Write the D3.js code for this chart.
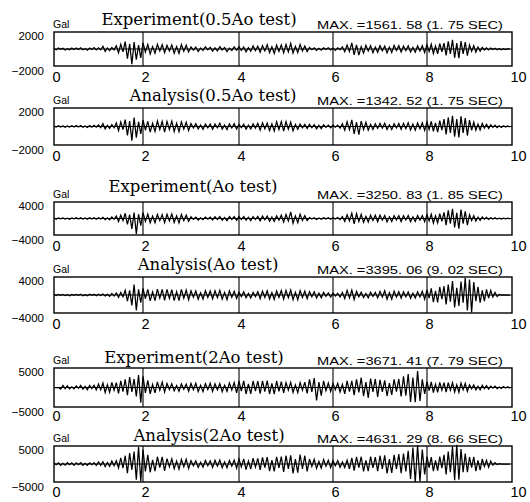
<!DOCTYPE html>
<html><head><meta charset="utf-8">
<script src="https://cdn.jsdelivr.net/npm/d3@7"></script>
<style>
html,body{margin:0;padding:0;background:#fff;}
svg{display:block;}
</style></head>
<body>
<svg id="chart" width="530" height="502"></svg>
<script>
// ---------------- DATA ----------------
const xTicks = [0, 2, 4, 6, 8, 10];
const dt = 0.05; // sec between successive peak readings
const titles = ["Experiment(0.5Ao test)", "Analysis(0.5Ao test)", "Experiment(Ao test)",
                "Analysis(Ao test)", "Experiment(2Ao test)", "Analysis(2Ao test)"];
const maxLabels = ["MAX. =1561. 58 (1. 75 SEC)", "MAX. =1342. 52 (1. 75 SEC)", "MAX. =3250. 83 (1. 85 SEC)",
                   "MAX. =3395. 06 (9. 02 SEC)", "MAX. =3671. 41 (7. 79 SEC)", "MAX. =4631. 29 (8. 66 SEC)"];
const yLimits = [2000, 2000, 4000, 4000, 5000, 5000];
const unitLabel = "Gal";

const exp05 = [
 60,-80,110,-40,70,-100,40,-70,90,-50,
 100,-60,120,-80,50,-130,90,-50,140,-90,
 120,-90,280,-240,100,-160,150,-90,320,-380,
 480,-300,760,-980,520,-1561,700,-1100,400,-900,
 620,-300,450,-520,250,-420,480,-200,440,-380,
 380,-200,420,-440,250,-460,450,-220,380,-300,
 220,-120,200,-260,110,-160,230,-90,170,-210,
 120,-190,250,-100,160,-260,90,-150,220,-130,
 230,-150,210,-290,130,-220,310,-160,280,-330,
 350,-200,440,-380,220,-460,400,-250,420,-390,
 460,-300,560,-420,280,-370,450,-200,300,-260,
 150,-80,120,-140,70,-120,110,-60,130,-100,
 90,-140,120,-70,210,-280,400,-250,620,-600,
 420,-620,250,-420,380,-200,340,-380,200,-330,
 340,-180,300,-380,200,-350,370,-160,340,-300,
 300,-170,330,-300,160,-330,310,-200,340,-360,
 420,-250,480,-460,300,-500,560,-280,600,-650,
 780,-500,930,-900,600,-930,820,-500,700,-680,
 420,-250,350,-320,200,-220,170,-100,120,-100,
 90,-60,80,-70,50,-70,40,-60,40,-30];

const ana05 = [
 40,-60,80,-40,60,-80,40,-60,70,-40,
 90,-50,90,-80,50,-90,80,-60,110,-70,
 140,-100,260,-230,110,-170,170,-120,330,-380,
 420,-300,640,-840,500,-1342,840,-1050,450,-700,
 600,-350,480,-520,300,-460,510,-280,470,-520,
 480,-280,500,-470,300,-480,430,-250,400,-380,
 280,-140,260,-230,150,-270,230,-120,240,-260,
 220,-130,300,-250,130,-280,250,-140,270,-240,
 200,-110,220,-250,120,-230,240,-150,300,-330,
 350,-220,330,-380,250,-420,450,-280,460,-430,
 470,-260,400,-390,200,-260,230,-130,200,-180,
 200,-120,180,-210,110,-190,160,-90,130,-120,
 120,-70,130,-150,250,-350,450,-300,620,-700,
 400,-770,500,-300,380,-350,200,-280,260,-180,
 280,-150,300,-270,160,-280,260,-140,290,-270,
 300,-200,350,-330,220,-340,330,-220,350,-360,
 420,-280,480,-460,330,-520,550,-350,700,-750,
 850,-600,1000,-950,700,-1020,950,-600,800,-850,
 600,-350,400,-350,220,-320,280,-150,200,-180,
 150,-80,120,-110,70,-90,80,-40,60,-50];

const expA = [
 100,-150,140,-70,140,-110,90,-150,120,-80,
 150,-100,170,-120,90,-170,150,-90,160,-140,
 180,-120,230,-250,150,-300,320,-180,500,-620,
 700,-450,1100,-1250,800,-2200,1250,-3250,900,-1500,
 1250,-600,900,-900,500,-900,850,-450,820,-860,
 880,-500,920,-850,550,-950,850,-450,700,-600,
 350,-180,280,-320,160,-260,290,-150,280,-300,
 350,-200,420,-380,200,-450,400,-200,420,-380,
 400,-220,420,-350,250,-430,380,-230,450,-500,
 500,-300,520,-550,300,-600,550,-350,700,-750,
 850,-500,1400,-1000,550,-880,900,-400,600,-450,
 200,-100,160,-200,100,-150,170,-90,160,-150,
 180,-100,200,-250,400,-600,800,-500,1100,-1150,
 1000,-600,900,-800,450,-750,680,-400,700,-650,
 700,-350,620,-700,350,-650,580,-300,600,-640,
 600,-320,620,-650,350,-620,640,-350,620,-680,
 800,-500,900,-950,550,-900,1000,-600,1300,-1400,
 1700,-1100,2050,-1900,1200,-2150,1900,-1100,1500,-1400,
 800,-450,600,-550,280,-400,300,-150,220,-200,
 180,-90,150,-130,80,-100,90,-50,70,-60];

const anaA = [
 100,-120,130,-60,110,-130,70,-140,110,-70,
 120,-80,140,-140,70,-130,140,-80,130,-150,
 140,-100,180,-170,120,-250,300,-200,400,-450,
 500,-350,900,-1200,900,-2000,2000,-3000,1100,-1500,
 1300,-700,1100,-1150,600,-1100,1150,-600,1100,-1050,
 1100,-650,1050,-1100,650,-1080,1100,-600,950,-900,
 800,-450,780,-820,450,-760,820,-450,780,-750,
 800,-500,900,-820,500,-900,800,-450,700,-650,
 550,-300,600,-550,300,-580,500,-320,650,-700,
 750,-450,820,-780,450,-850,780,-450,850,-800,
 900,-500,950,-900,500,-920,850,-450,750,-700,
 650,-350,620,-580,350,-550,500,-250,400,-380,
 350,-200,340,-380,500,-700,900,-550,950,-900,
 700,-350,550,-520,300,-560,540,-300,520,-560,
 700,-400,800,-820,450,-800,750,-400,650,-600,
 600,-350,580,-640,350,-580,620,-380,700,-800,
 1000,-600,1300,-1400,800,-1450,1550,-800,1700,-1800,
 2000,-1300,2700,-2400,1400,-2100,2600,-1500,3300,-3000,
 3000,-3395,2500,-1200,1600,-1500,900,-1200,1100,-600,
 900,-400,500,-300,100,-40,20,-10,0,0];

const exp2A = [
 0,0,0,-350,450,-250,380,-300,150,-280,
 350,-200,450,-380,250,-500,450,-250,500,-550,
 800,-500,1000,-1100,600,-1050,1150,-600,1100,-1300,
 1500,-900,1800,-1700,2300,-1000,1900,-2000,2750,-3400,
 2500,-1200,1600,-1400,700,-1200,1250,-600,1200,-1000,
 900,-450,850,-750,450,-850,780,-400,750,-820,
 900,-500,950,-900,500,-920,850,-450,950,-870,
 800,-500,850,-950,500,-850,1000,-550,1100,-1200,
 1400,-800,1500,-1450,800,-1400,1450,-800,1400,-1350,
 1500,-900,1550,-1450,900,-1500,1450,-850,1300,-1200,
 1100,-600,1150,-1100,600,-1150,1100,-600,1200,-1300,
 1800,-1000,2100,-2900,1200,-1800,1500,-700,1000,-900,
 900,-500,950,-1000,700,-1400,1500,-900,1500,-1700,
 1800,-1100,2200,-1900,1200,-2300,2000,-1000,1900,-2100,
 1700,-1000,1600,-1900,1000,-1650,1800,-900,1900,-2000,
 2500,-1800,3000,-3200,2200,-3300,3671,-3000,1800,-1400,
 1300,-700,1250,-1150,700,-1100,1150,-600,1100,-1050,
 1100,-600,1050,-1000,600,-1050,1000,-500,900,-850,
 600,-300,580,-520,300,-550,480,-250,400,-380,
 300,-150,280,-240,130,-220,200,-100,160,-150];

const ana2A = [
 250,-150,280,-320,150,-300,310,-150,300,-320,
 300,-160,320,-300,180,-310,300,-170,320,-330,
 500,-300,550,-650,350,-580,700,-400,800,-900,
 1500,-1000,2000,-2200,2650,-1400,3000,-3800,4100,-4200,
 3500,-1800,2200,-2000,1000,-1700,1750,-900,1700,-1650,
 1300,-700,1250,-1150,700,-1250,1100,-650,1150,-1100,
 800,-450,780,-820,450,-760,850,-450,780,-820,
 900,-500,950,-900,500,-920,850,-500,950,-1000,
 1200,-700,1250,-1350,700,-1250,1400,-750,1350,-1400,
 1600,-900,1650,-1750,950,-1800,1750,-950,1800,-1900,
 2000,-1200,2100,-2300,1200,-2100,2300,-1200,2000,-1800,
 1200,-600,1150,-1050,600,-1000,1050,-550,900,-850,
 800,-400,820,-780,450,-850,900,-1200,1500,-1600,
 1700,-900,1750,-1800,900,-1700,1800,-950,1650,-1700,
 2000,-1200,2100,-2300,1200,-2150,2200,-1200,2400,-2200,
 2500,-1800,3200,-3600,4000,-4400,4500,-4200,3500,-2500,
 1800,-900,1650,-1750,900,-1600,1800,-1000,2200,-2500,
 3000,-2000,4200,-3900,4631,-3800,3600,-2000,2500,-2000,
 1700,-900,1750,-1700,900,-1500,1200,-600,900,-800,
 700,-300,300,-150,60,-20,0,0,0,0];

const seriesList = [exp05, ana05, expA, anaA, exp2A, ana2A];

// ---------------- LAYOUT ----------------
const panels = [
  {top: 32,  h: 34, titleX: 199, titleY: 25,  tickY: 16},
  {top: 108, h: 37, titleX: 213, titleY: 101, tickY: 16},
  {top: 202, h: 33, titleX: 193, titleY: 192, tickY: 16},
  {top: 277, h: 36, titleX: 208, titleY: 270, tickY: 16},
  {top: 368, h: 39, titleX: 194, titleY: 363, tickY: 13.5},
  {top: 446, h: 36, titleX: 209, titleY: 441, tickY: 15}
];
const left = 54, right = 512;
const penOvershoot = 1.15; // trace drawn slightly beyond the labelled limits, as in the scan

const svg = d3.select("#chart");
svg.append("rect").attr("width", 530).attr("height", 502).attr("fill", "#fff");

// slightly non-uniform scanned time axis
const x = d3.scaleLinear().domain(xTicks).range([left, 143, 239, 333, 427, right]);

panels.forEach((p, k) => {
  const data = seriesList[k];
  const M = yLimits[k];
  const mid = p.top + p.h / 2;
  const yBox = d3.scaleLinear().domain([-M, M]).range([p.top + p.h, p.top]);
  const y = d3.scaleLinear().domain([-M, M])
    .range([mid + p.h / 2 * penOvershoot, mid - p.h / 2 * penOvershoot]);
  const g = svg.append("g");

  // signal
  const line = d3.line().x((d, i) => x(i * dt)).y(d => y(d));
  g.append("path").datum(data).attr("d", line)
    .attr("fill", "none").attr("stroke", "#000").attr("stroke-width", 1.25)
    .attr("stroke-linejoin", "miter");

  // grid lines
  g.selectAll("line.vg").data(xTicks.slice(1, -1)).enter().append("line")
    .attr("x1", d => x(d)).attr("x2", d => x(d))
    .attr("y1", p.top).attr("y2", p.top + p.h)
    .attr("stroke", "#000").attr("stroke-width", 1.1);
  g.append("line").attr("x1", left).attr("x2", right)
    .attr("y1", y(0)).attr("y2", y(0))
    .attr("stroke", "#000").attr("stroke-width", 1);

  // frame
  g.append("rect").attr("x", left).attr("y", p.top)
    .attr("width", right - left).attr("height", p.h)
    .attr("fill", "none").attr("stroke", "#000").attr("stroke-width", 1.4);

  // x axis labels
  const xa = g.append("g").attr("transform", `translate(0,${p.top + p.h})`)
    .call(d3.axisBottom(x).tickValues(xTicks).tickSize(0).tickPadding(0).tickFormat(d3.format("d")));
  xa.select(".domain").remove();
  xa.selectAll("text").attr("font-family", "Liberation Sans, Arial, sans-serif")
    .attr("font-size", 14.5).attr("fill", "#000")
    .attr("text-anchor", "start").attr("dx", -2).attr("dy", 0).attr("y", p.tickY);

  // y axis labels
  const ya = g.append("g").attr("transform", `translate(44,0)`)
    .call(d3.axisLeft(yBox).tickValues([M, -M]).tickSize(0).tickPadding(0).tickFormat(d3.format("d")));
  ya.select(".domain").remove();
  ya.selectAll("text").attr("font-family", "Liberation Sans, Arial, sans-serif")
    .attr("font-size", 11.5).attr("fill", "#000").attr("x", 0)
    .attr("dy", d => d > 0 ? "0.65em" : "0.75em");

  // unit label
  g.append("text").attr("x", 53).attr("y", p.top - 4)
    .attr("font-family", "Liberation Sans, Arial, sans-serif").attr("font-size", 10.5)
    .attr("fill", "#000").text(unitLabel);

  // title
  g.append("text").attr("x", p.titleX).attr("y", p.titleY)
    .attr("text-anchor", "middle")
    .attr("font-family", "DejaVu Serif, serif").attr("font-size", 16.5)
    .attr("fill", "#000").text(titles[k]);

  // max annotation
  g.append("text").attr("x", 317).attr("y", p.top - 3)
    .attr("font-family", "Liberation Sans, Arial, sans-serif").attr("font-size", 10.5)
    .attr("textLength", 186).attr("lengthAdjust", "spacingAndGlyphs")
    .attr("fill", "#000").text(maxLabels[k]);
});
</script>
</body></html>
